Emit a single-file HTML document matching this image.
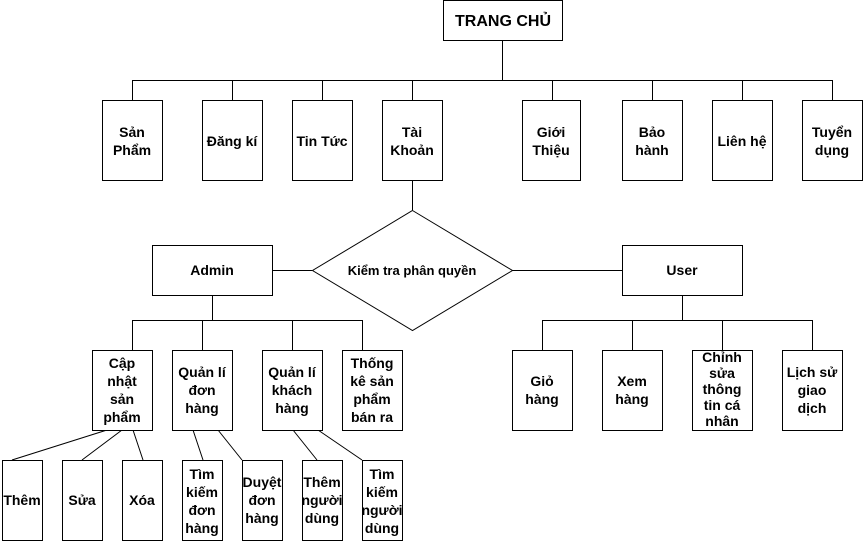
<!DOCTYPE html>
<html><head><meta charset="utf-8"><style>
html,body{margin:0;padding:0;background:#fff;}
svg{display:block;font-family:"Liberation Sans",Arial,sans-serif;font-weight:bold;font-size:14px;}
</style></head><body>
<svg width="863" height="541" viewBox="0 0 863 541" xmlns="http://www.w3.org/2000/svg">
<g stroke="#000" stroke-width="1" fill="none">
<path d="M502.5 40V80.5M132.5 80.5H832.5M132.5 80V100M232.5 80V100M322.5 80V100M412.5 80V100M552.5 80V100M652.5 80V100M742.5 80V100M832.5 80V100"/>
<path d="M412.5 180V210M272 270.5H312M512 270.5H622"/>
<path d="M212.5 295V320.5M132.5 320.5H362.5M132.5 320V350M202.5 320V350M292.5 320V350M362.5 320V350"/>
<path d="M682.5 295V320.5M542.5 320.5H812.5M542.5 320V350M632.5 320V350M722.5 320V350M812.5 320V350"/>
<path d="M107 430L12 460M122 430L82 460M133 430L143 460M193 430L203 460M218 430L242 460M293 430L317 460M318 430L362 460"/>
<g fill="#fff">
<rect x="443.5" y="0.5" width="119" height="40"/>
<rect x="102.5" y="100.5" width="60" height="80"/>
<rect x="202.5" y="100.5" width="60" height="80"/>
<rect x="292.5" y="100.5" width="60" height="80"/>
<rect x="382.5" y="100.5" width="60" height="80"/>
<rect x="522.5" y="100.5" width="58" height="80"/>
<rect x="622.5" y="100.5" width="60" height="80"/>
<rect x="712.5" y="100.5" width="60" height="80"/>
<rect x="802.5" y="100.5" width="60" height="80"/>
<polygon points="412.5,210.5 512.5,270.5 412.5,330.5 312.5,270.5"/>
<rect x="152.5" y="245.5" width="120" height="50"/>
<rect x="622.5" y="245.5" width="120" height="50"/>
<rect x="92.5" y="350.5" width="60" height="80"/>
<rect x="172.5" y="350.5" width="60" height="80"/>
<rect x="262.5" y="350.5" width="60" height="80"/>
<rect x="342.5" y="350.5" width="60" height="80"/>
<rect x="512.5" y="350.5" width="60" height="80"/>
<rect x="602.5" y="350.5" width="60" height="80"/>
<rect x="692.5" y="350.5" width="60" height="80"/>
<rect x="782.5" y="350.5" width="60" height="80"/>
<rect x="2.5" y="460.5" width="40" height="80"/>
<rect x="62.5" y="460.5" width="40" height="80"/>
<rect x="122.5" y="460.5" width="40" height="80"/>
<rect x="182.5" y="460.5" width="40" height="80"/>
<rect x="242.5" y="460.5" width="40" height="80"/>
<rect x="302.5" y="460.5" width="40" height="80"/>
<rect x="362.5" y="460.5" width="40" height="80"/>
</g>
</g>
<g fill="#000" text-anchor="middle">
<text x="503" y="26" font-size="16">TRANG CHỦ</text>
<text x="132" y="137">Sản</text><text x="132" y="155">Phẩm</text>
<text x="232" y="146">Đăng kí</text>
<text x="322" y="146">Tin Tức</text>
<text x="412" y="137">Tài</text><text x="412" y="155">Khoản</text>
<text x="551" y="137">Giới</text><text x="551" y="155">Thiệu</text>
<text x="652" y="137">Bảo</text><text x="652" y="155">hành</text>
<text x="742" y="146">Liên hệ</text>
<text x="832" y="137">Tuyển</text><text x="832" y="155">dụng</text>
<text x="412" y="275" font-size="13">Kiểm tra phân quyền</text>
<text x="212" y="275">Admin</text>
<text x="682" y="275">User</text>
<text x="122" y="368">Cập</text><text x="122" y="386">nhật</text><text x="122" y="404">sản</text><text x="122" y="422">phẩm</text>
<text x="202" y="377">Quản lí</text><text x="202" y="395">đơn</text><text x="202" y="413">hàng</text>
<text x="292" y="377">Quản lí</text><text x="292" y="395">khách</text><text x="292" y="413">hàng</text>
<text x="372" y="368">Thống</text><text x="372" y="386">kê sản</text><text x="372" y="404">phẩm</text><text x="372" y="422">bán ra</text>
<text x="542" y="386">Giỏ</text><text x="542" y="404">hàng</text>
<text x="632" y="386">Xem</text><text x="632" y="404">hàng</text>
<text x="722" y="362">Chỉnh</text><text x="722" y="378">sửa</text><text x="722" y="394">thông</text><text x="722" y="410">tin cá</text><text x="722" y="426">nhân</text>
<text x="812" y="377">Lịch sử</text><text x="812" y="395">giao</text><text x="812" y="413">dịch</text>
<text x="22" y="505">Thêm</text>
<text x="82" y="505">Sửa</text>
<text x="142" y="505">Xóa</text>
<text x="202" y="479">Tìm</text><text x="202" y="497">kiếm</text><text x="202" y="515">đơn</text><text x="202" y="533">hàng</text>
<text x="262" y="487">Duyệt</text><text x="262" y="505">đơn</text><text x="262" y="523">hàng</text>
<text x="322" y="487">Thêm</text><text x="322" y="505">người</text><text x="322" y="523">dùng</text>
<text x="382" y="479">Tìm</text><text x="382" y="497">kiếm</text><text x="382" y="515">người</text><text x="382" y="533">dùng</text>
</g>
</svg>
</body></html>
